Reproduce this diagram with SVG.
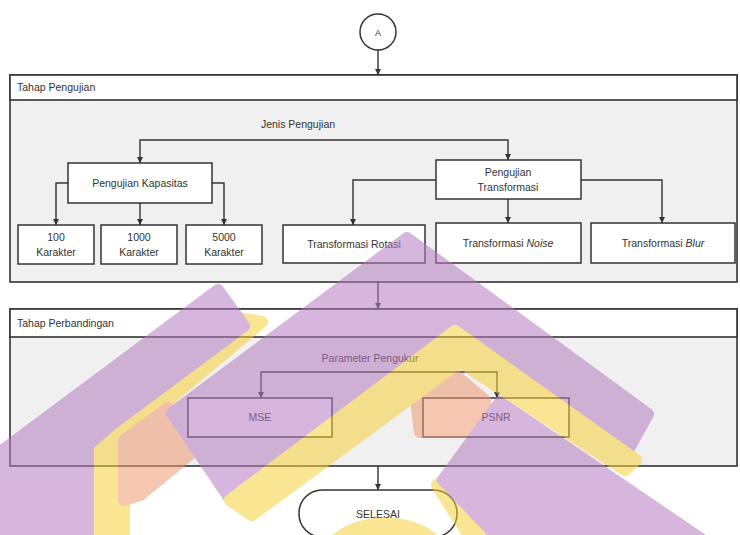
<svg xmlns="http://www.w3.org/2000/svg" width="740" height="535" viewBox="0 0 740 535">
<defs>
<marker id="arr" markerUnits="userSpaceOnUse" markerWidth="7" markerHeight="7" refX="6" refY="3" orient="auto"><path d="M0,0 L6,3 L0,6 z" fill="#333"/></marker>
<style>
.box{fill:#fff;stroke:#333;stroke-width:1.5}
.frame{fill:#f0f0f0;stroke:#333;stroke-width:1.6}
.hdr{fill:#fff;stroke:#333;stroke-width:1.6}
.t{font-family:"Liberation Sans",Arial,sans-serif;font-size:10.5px;fill:#333;text-anchor:middle}
.tl{font-family:"Liberation Sans",Arial,sans-serif;font-size:10.5px;fill:#333}
.c{fill:none;stroke:#333;stroke-width:1.4}
.wm{stroke-linejoin:round;stroke-width:12}
.p{fill:#b57cc0;stroke:#b57cc0}
.y{fill:#f5d03a;stroke:#f5d03a}
.s{fill:#ee9a72;stroke:#ee9a72}
</style>
</defs>
<rect width="740" height="535" fill="#fff"/>
<g id="frame-pengujian">
<rect class="frame" x="10" y="75" width="727" height="207"/>
<rect class="hdr" x="10" y="75" width="727" height="25"/>
<text class="tl" x="17" y="91">Tahap Pengujian</text>
<text class="t" x="298" y="128">Jenis Pengujian</text>
</g>
<g id="frame-perbandingan">
<rect class="frame" x="10" y="309" width="727" height="157"/>
<rect class="hdr" x="10" y="309" width="727" height="28"/>
<text class="tl" x="17" y="327">Tahap Perbandingan</text>
<text class="t" x="370" y="362">Parameter Pengukur</text>
</g>
<g id="start">
<circle cx="378" cy="32" r="18" fill="#fff" stroke="#333" stroke-width="1.5"/>
<text class="t" x="378" y="36" style="font-size:9px">A</text>
</g>
<g id="kapasitas"><rect class="box" x="68" y="163" width="144" height="40"/><text class="t" x="140" y="187">Pengujian Kapasitas</text></g>
<g id="k100"><rect class="box" x="18" y="225" width="76" height="39"/><text class="t" x="56" y="241">100</text><text class="t" x="56" y="256">Karakter</text></g>
<g id="k1000"><rect class="box" x="101" y="225" width="76" height="39"/><text class="t" x="139" y="241">1000</text><text class="t" x="139" y="256">Karakter</text></g>
<g id="k5000"><rect class="box" x="186" y="225" width="76" height="39"/><text class="t" x="224" y="241">5000</text><text class="t" x="224" y="256">Karakter</text></g>
<g id="transformasi"><rect class="box" x="436" y="160" width="145" height="39"/><text class="t" x="508" y="176">Pengujian</text><text class="t" x="508" y="191">Transformasi</text></g>
<g id="rotasi"><rect class="box" x="283" y="225" width="142" height="38"/><text class="t" x="354" y="248">Transformasi Rotasi</text></g>
<g id="noise"><rect class="box" x="436" y="223" width="145" height="40"/><text class="t" x="508" y="247">Transformasi <tspan font-style="italic">Noise</tspan></text></g>
<g id="blur"><rect class="box" x="591" y="223" width="144" height="40"/><text class="t" x="663" y="247">Transformasi <tspan font-style="italic">Blur</tspan></text></g>
<g id="mse"><rect class="box" x="188" y="398" width="144" height="39"/><text class="t" x="260" y="421">MSE</text></g>
<g id="psnr"><rect class="box" x="423" y="398" width="146" height="39"/><text class="t" x="496" y="421">PSNR</text></g>
<g id="selesai"><rect class="box" x="299" y="490" width="158" height="47" rx="23" ry="23"/><text class="t" x="378" y="518">SELESAI</text></g>
<g id="connectors">
<path class="c" d="M378,50 V75" marker-end="url(#arr)"/>
<path class="c" d="M324,140 H140 V163" marker-end="url(#arr)"/>
<path class="c" d="M324,140 H508 V160" marker-end="url(#arr)"/>
<path class="c" d="M68,183 H56 V225" marker-end="url(#arr)"/>
<path class="c" d="M140,203 V225" marker-end="url(#arr)"/>
<path class="c" d="M212,183 H224 V225" marker-end="url(#arr)"/>
<path class="c" d="M436,180 H353 V225" marker-end="url(#arr)"/>
<path class="c" d="M508,199 V223" marker-end="url(#arr)"/>
<path class="c" d="M581,180 H662 V223" marker-end="url(#arr)"/>
<path class="c" d="M378,282 V309" marker-end="url(#arr)"/>
<path class="c" d="M380,372 H261 V398" marker-end="url(#arr)"/>
<path class="c" d="M380,372 H497 V398" marker-end="url(#arr)"/>
<path class="c" d="M378,466 V490" marker-end="url(#arr)"/>
</g>
<g id="watermark" opacity="0.55">
<polygon class="wm y" points="238,318 262,322 135,428 124,440 124,545 88,545 88,442 108,425"/>
<polygon class="wm s" points="124,440 168,408 195,450 140,495 124,500"/>
<polygon class="wm p" points="218,290 244,326 111,425 88,445 88,545 -5,545 -5,456"/>
<polygon class="wm s" points="415,392 455,375 485,400 485,432 420,432"/>
<polygon class="wm y" points="437,485 450,475 505,545 475,545"/>
<ellipse class="y" cx="385" cy="556" rx="62" ry="38"/>
<polygon class="wm p" points="500,402 710,545 505,545 443,480"/>
<polygon class="wm p" points="407,238 648,414 628,450 455,333 232,502 172,413"/>
<polygon class="wm y" points="455,331 636,460 625,470 460,362 252,515 230,500"/>
</g>
</svg>
